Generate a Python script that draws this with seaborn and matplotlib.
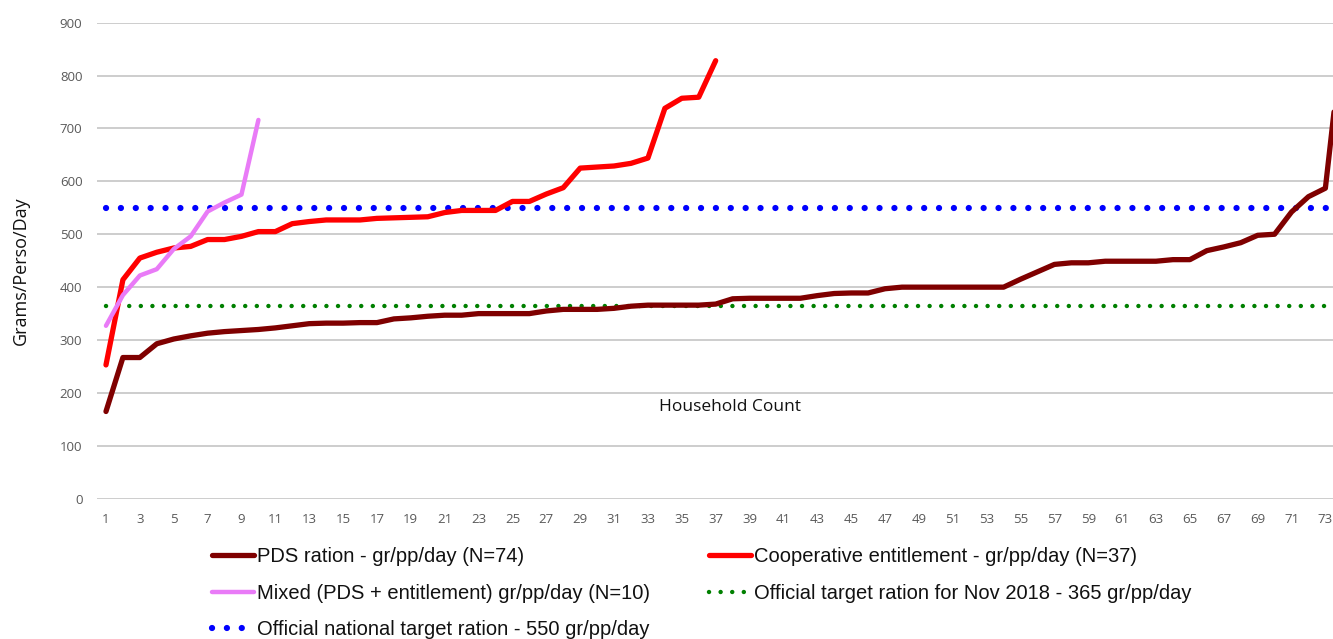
import numpy as np
import pandas as pd
import seaborn as sns
import matplotlib.pyplot as plt

# values (grams / person / day, sorted per group)
pds_ration = [165, 267, 267, 293, 302, 308, 313, 316, 318, 320,
              323, 327, 331, 332, 332, 333, 333, 340, 342, 345,
              347, 347, 350, 350, 350, 350, 355, 358, 358, 358,
              360, 364, 366, 366, 366, 366, 368, 378, 379, 379,
              379, 379, 384, 388, 389, 389, 397, 400, 400, 400,
              400, 400, 400, 400, 415, 429, 443, 446, 446, 449,
              449, 449, 449, 452, 452, 469, 476, 484, 498, 500,
              542, 571, 587, 870]
coop_entitlement = [253, 414, 455, 466, 474, 477, 490, 490, 496, 505,
                    505, 520, 524, 527, 527, 527, 530, 531, 532, 533,
                    541, 545, 545, 545, 562, 562, 576, 588, 625, 627,
                    629, 634, 644, 738, 757, 759, 828]
mixed = [327, 385, 422, 434, 472, 496, 543, 560, 575, 716]
target_nov_2018 = 365
target_national = 550

labels = {
    'pds': 'PDS ration - gr/pp/day (N=74)',
    'coop': 'Cooperative entitlement - gr/pp/day (N=37)',
    'mixed': 'Mixed (PDS + entitlement) gr/pp/day (N=10)',
    'nov': 'Official target ration for Nov 2018 - 365 gr/pp/day',
    'nat': 'Official national target ration - 550 gr/pp/day',
}

frames = []
for key, vals in [('pds', pds_ration), ('coop', coop_entitlement), ('mixed', mixed)]:
    frames.append(pd.DataFrame({'household': np.arange(1, len(vals) + 1),
                                'grams': vals, 'series': labels[key]}))
df = pd.concat(frames, ignore_index=True)
n_households = len(pds_ration)

sns.set_style('white')
plt.rcParams['font.family'] = ['Open Sans', 'DejaVu Sans']

fig = plt.figure(figsize=(13.33, 6.39), dpi=100)
ax = fig.add_axes([97 / 1333, 1 - 498.8 / 639, 1 - 97 / 1333, (498.8 - 22.6) / 639])

palette = {labels['pds']: '#7f0000', labels['coop']: '#ff0000', labels['mixed']: '#e97bf7'}
widths = {labels['pds']: 3.8, labels['coop']: 3.8, labels['mixed']: 3.2}

# target lines first so the series sit on top
ax.plot([1, n_households], [target_national] * 2, color='#0000ff', linewidth=4.5,
        linestyle=(0, (0.01, 2.37)), dash_capstyle='round', label=labels['nat'], zorder=2)
ax.plot([1, n_households], [target_nov_2018] * 2, color='#008000', linewidth=3.2,
        linestyle=(0, (0.01, 2.6)), dash_capstyle='round', label=labels['nov'], zorder=2)

for name in [labels['pds'], labels['coop'], labels['mixed']]:
    sub = df[df['series'] == name]
    sns.lineplot(data=sub, x='household', y='grams', ax=ax, color=palette[name],
                 linewidth=widths[name], label=name, zorder=3)
for line in ax.lines:
    line.set_solid_capstyle('round')
    line.set_solid_joinstyle('round')

ax.set_xlim(0.47, 73.45)
ax.set_ylim(0, 900)
ax.set_yticks(range(0, 901, 100))
ax.set_xticks(range(1, n_households + 1, 2))
ax.tick_params(axis='both', length=0, labelsize=9.5, labelcolor='#595959')
ax.tick_params(axis='x', pad=10.5)
ax.tick_params(axis='y', pad=10.5)
ax.yaxis.grid(True, color='#c9c9c9', linewidth=1.3)
ax.xaxis.grid(False)
for s in ax.spines.values():
    s.set_visible(False)

ax.set_ylabel('Grams/Perso/Day', fontsize=13, color='#111111')
ax.yaxis.set_label_coords(-0.054, 0.48)
ax.set_xlabel('Household Count', fontsize=12.5, color='#111111')
ax.xaxis.set_label_coords(0.512, 0.209)

handles, labs = ax.get_legend_handles_labels()
order = [labels['pds'], labels['mixed'], labels['nat'], labels['coop'], labels['nov']]
hmap = dict(zip(labs, handles))
ax.get_legend().remove()
leg = fig.legend([hmap[k] for k in order], order, ncol=2, loc='upper left',
                 bbox_to_anchor=(212 / 1333, 1 - 547 / 639), frameon=False,
                 borderpad=0, borderaxespad=0, handlelength=2.1, handletextpad=0.15,
                 columnspacing=2.9, labelspacing=0.88,
                 prop={'family': ['Liberation Sans', 'DejaVu Sans'], 'size': 14.5})
for t in leg.get_texts():
    t.set_color('#111111')

fig.savefig('out.png', dpi=100)
